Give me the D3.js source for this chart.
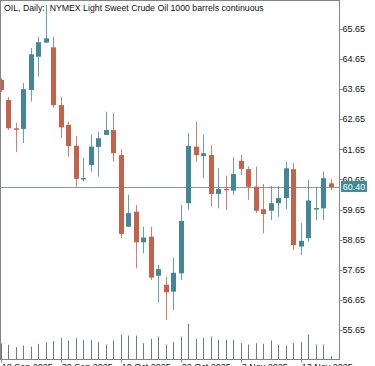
<!DOCTYPE html>
<html>
<head>
<meta charset="utf-8">
<script src="https://cdn.jsdelivr.net/npm/d3@7"></script>
<style>
html,body{margin:0;padding:0;background:#fff;overflow:hidden;}
svg{display:block;}
text{font-family:"Liberation Sans",Arial,sans-serif;}
</style>
</head>
<body>
<svg id="chart" width="375" height="366"></svg>
<script>
const titleText = "OIL, Daily:  NYMEX Light Sweet Crude Oil 1000 barrels continuous";
const dates = ["2025-09-18","2025-09-19","2025-09-22","2025-09-23","2025-09-24","2025-09-25","2025-09-26","2025-09-29","2025-09-30",
"2025-10-01","2025-10-02","2025-10-03","2025-10-06","2025-10-07","2025-10-08","2025-10-09","2025-10-10",
"2025-10-13","2025-10-14","2025-10-15","2025-10-16","2025-10-17","2025-10-20","2025-10-21","2025-10-22",
"2025-10-23","2025-10-24","2025-10-27","2025-10-28","2025-10-29","2025-10-30","2025-10-31","2025-11-03",
"2025-11-04","2025-11-05","2025-11-06","2025-11-07","2025-11-10","2025-11-11","2025-11-12","2025-11-13",
"2025-11-14","2025-11-17","2025-11-18","2025-11-19"];
const opens  = [63.96,63.29,62.35,62.33,63.62,64.73,65.20,65.04,63.12,62.46,61.77,60.66,61.13,61.73,62.13,62.29,61.46,59.08,59.58,58.56,58.75,57.45,57.15,56.92,57.53,59.86,61.74,61.43,61.46,60.17,60.34,60.28,61.27,60.99,60.41,59.66,59.61,59.86,60.03,60.99,58.42,58.70,59.69,59.69,60.52];
const highs  = [64.02,63.39,62.53,63.86,65.02,65.39,66.45,65.39,63.40,62.57,62.10,61.36,62.13,62.24,62.90,62.85,61.65,60.14,59.80,59.08,59.08,57.81,57.42,58.04,59.80,62.19,62.57,62.13,61.80,61.02,60.77,61.39,61.46,61.08,61.08,60.50,60.43,60.43,61.24,61.19,59.20,60.63,60.41,60.91,60.66];
const lows   = [63.56,62.29,61.56,61.86,63.24,64.07,65.18,63.03,62.03,61.41,60.41,60.58,60.91,60.74,62.12,61.24,58.70,59.07,57.70,58.20,57.31,56.56,55.98,56.31,57.31,59.64,61.24,60.69,59.75,59.69,59.64,60.14,60.80,59.97,59.53,58.86,59.30,59.41,59.66,58.31,58.14,58.58,59.30,59.30,60.30];
const closes = [63.62,62.35,62.34,63.65,64.81,65.21,65.34,63.12,62.38,61.76,60.67,60.70,61.74,62.02,62.29,61.52,58.84,59.53,58.56,58.72,57.39,57.67,56.90,57.55,59.27,61.76,61.46,61.52,60.17,60.33,60.29,60.83,61.00,60.41,59.61,59.50,59.86,60.03,61.02,58.47,58.61,59.95,59.70,60.69,60.40];
const volumes = [16,14.7,12.3,14,13,15.7,17,18.3,21.3,19,21.3,19.7,19.7,17.3,15,19,24.7,24,24,16.3,20.7,23,15,17.3,23,35.5,20.7,21.7,23,19.7,19.7,19.7,16.3,15,16.3,15.7,19,14.7,14,16.3,17.3,25,15,15,3.3];
const priceTicks = [65.65,64.65,63.65,62.65,61.65,60.65,59.65,58.65,57.65,56.65,55.65];
const dateTickDates = ["2025-09-18","2025-09-30","2025-10-10","2025-10-22","2025-11-03","2025-11-13"];
const dateTickLabels = ["18 Sep 2025","30 Sep 2025","10 Oct 2025","22 Oct 2025","3 Nov 2025","13 Nov 2025"];
const lastPrice = 60.40;

const bullColor = "#43869a", bearColor = "#c4634a";
const svg = d3.select("#chart");
const L = 0.5, R = 339.5, T = 0.5, B = 359.5;

const x = d3.scalePoint().domain(dates).range([0.8, 330.8]);
const y = d3.scaleLinear().domain([54.65, 66.58]).range([360, 1]);
const yv = d3.scaleLinear().domain([0, 40]).range([359.5, 319.5]);

const data = dates.map((d,i)=>({d, o:opens[i], h:highs[i], l:lows[i], c:closes[i], v:volumes[i]}));

const clip = svg.append("defs").append("clipPath").attr("id","plot")
  .append("rect").attr("x",L).attr("y",T).attr("width",R-L).attr("height",B-T);

const plot = svg.append("g").attr("clip-path","url(#plot)");

// volumes
plot.selectAll("line.vol").data(data).join("line").attr("class","vol")
  .attr("x1",d=>Math.round(x(d.d))+0.5).attr("x2",d=>Math.round(x(d.d))+0.5)
  .attr("y1",yv(0)).attr("y2",d=>yv(d.v))
  .attr("stroke","#6f7a82").attr("stroke-width",1);

// last price line
plot.append("line").attr("x1",L).attr("x2",R)
  .attr("y1",Math.round(y(lastPrice))+0.5).attr("y2",Math.round(y(lastPrice))+0.5)
  .attr("stroke","#8e9a9c").attr("stroke-width",1);

// candles
const cg = plot.selectAll("g.c").data(data).join("g").attr("class","c");
cg.append("line")
  .attr("x1",d=>Math.round(x(d.d))+0.5).attr("x2",d=>Math.round(x(d.d))+0.5)
  .attr("y1",d=>y(d.h)).attr("y2",d=>y(d.l))
  .attr("stroke",d=>d.c>=d.o?bullColor:bearColor).attr("stroke-width",1).attr("opacity",0.8);
cg.append("rect")
  .attr("x",d=>Math.round(x(d.d))-2).attr("width",5)
  .attr("y",d=>y(Math.max(d.o,d.c)))
  .attr("height",d=>Math.max(1.5, Math.abs(y(d.o)-y(d.c))))
  .attr("fill",d=>d.c>=d.o?bullColor:bearColor);

// frame
svg.append("rect").attr("x",L).attr("y",T).attr("width",R-L).attr("height",B-T)
  .attr("fill","none").attr("stroke","#858585").attr("stroke-width",1);

// price axis
const pa = svg.append("g");
pa.selectAll("line").data(priceTicks).join("line")
  .attr("x1",R).attr("x2",R+3).attr("y1",d=>Math.round(y(d))+0.5).attr("y2",d=>Math.round(y(d))+0.5)
  .attr("stroke","#858585");
pa.selectAll("text").data(priceTicks).join("text")
  .attr("x",R+3).attr("y",d=>y(d)).attr("dy","0.35em")
  .attr("font-size",9).attr("fill","#111").text(d=>d.toFixed(2));

// last price box
const ly = y(lastPrice);
svg.append("rect").attr("x",341).attr("y",ly-6).attr("width",26).attr("height",11).attr("fill","#3e8a96");
svg.append("text").attr("x",354).attr("y",ly).attr("dy","0.35em").attr("text-anchor","middle")
  .attr("font-size",9).attr("fill","#fff").text(lastPrice.toFixed(2));

// date axis
const da = svg.append("g");
da.selectAll("line").data(dateTickDates).join("line")
  .attr("x1",d=>Math.round(x(d))+0.5).attr("x2",d=>Math.round(x(d))+0.5)
  .attr("y1",B).attr("y2",B+3).attr("stroke","#858585");
da.selectAll("text").data(dateTickDates).join("text")
  .attr("x",d=>x(d)+1).attr("y",369.5)
  .attr("font-size",9).attr("fill","#111").text((d,i)=>dateTickLabels[i]);

// title
const t = svg.append("text").attr("x",4).attr("y",10.5).attr("font-size",10.5).attr("fill","#111")
  .style("white-space","pre").attr("xml:space","preserve").text(titleText);
const w = t.node().getComputedTextLength();
if (w > 0) t.attr("font-size", 10.5*260/w);
</script>
</body>
</html>
